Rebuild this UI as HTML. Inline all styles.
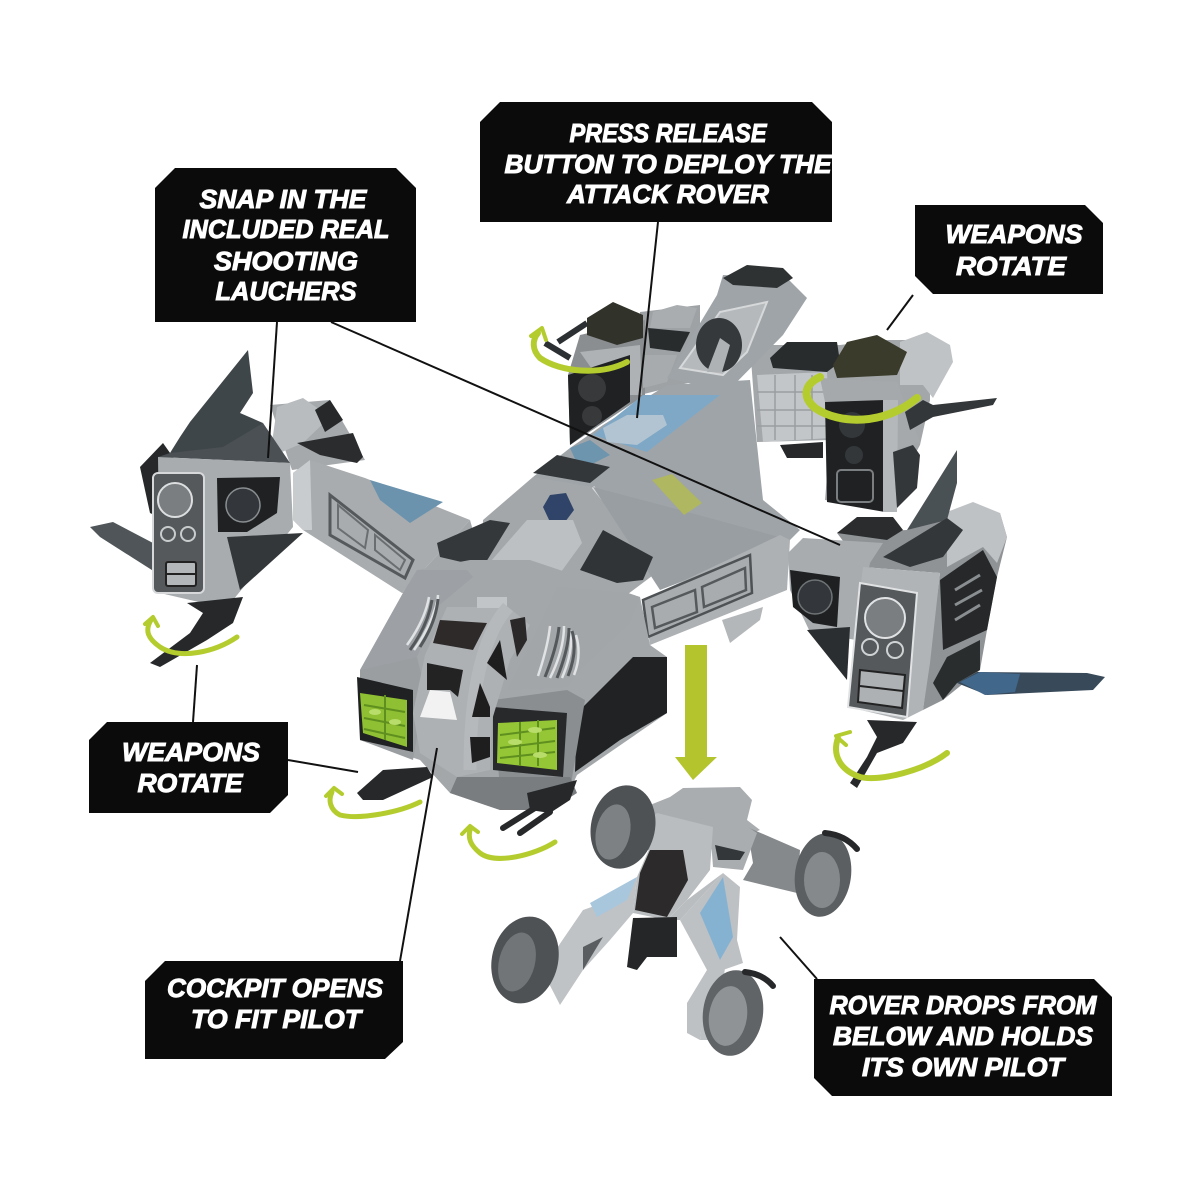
<!DOCTYPE html>
<html><head><meta charset="utf-8"><style>
html,body{margin:0;padding:0;background:#fff}
svg{display:block}
text{font-family:"Liberation Sans",sans-serif;font-weight:bold;font-style:italic;font-size:26px;fill:#fff;text-anchor:middle;stroke:#fff;stroke-width:1px}
</style></head><body>
<svg width="1200" height="1200" viewBox="0 0 1200 1200" xmlns="http://www.w3.org/2000/svg">
<rect width="1200" height="1200" fill="#fff"/>

<!-- rear underlays -->
<polygon points="640,312 700,305 700,380 640,395" fill="#9ea2a5"/>
<polygon points="580,335 645,320 645,395 600,425 570,445 568,375" fill="#8a8e91"/>
<polygon points="750,345 840,345 880,340 930,340 930,400 920,445 885,510 825,500 830,440 757,442" fill="#a3a7aa"/>

<!-- rear left turret -->
<polygon points="653,312 677,305 697,308 690,328 650,328" fill="#a9adb0"/>
<polygon points="648,328 690,332 680,352 650,348" fill="#292c2d"/>
<polygon points="580,352 640,345 642,395 610,395" fill="#aeb2b5"/>
<polygon points="568,375 630,355 630,402 593,428 570,445" fill="#1f2122"/>
<circle cx="592" cy="388" r="14" fill="#37393b"/><circle cx="592" cy="416" r="10" fill="#37393b"/>
<polygon points="587,318 613,302 643,315 643,338 617,345 587,335" fill="#31332a"/>
<path d="M558 342 587 323M545 343 570 358" stroke="#2d3032" stroke-width="6" fill="none"/>
<polygon points="643,355 677,355 667,382 643,388" fill="#a7abae"/>

<!-- tail -->
<polygon points="667,378 717,295 723,275 787,278 807,298 783,335 727,392" fill="#9fa4a8"/>
<polygon points="723,278 747,265 783,268 793,278 777,288 733,285" fill="#2f3233"/>
<polygon points="680,368 720,312 767,302 747,352 723,375" fill="#b5b9bc" stroke="#d6d8d9" stroke-width="2"/>
<ellipse cx="719" cy="345" rx="23" ry="27" fill="#36393b"/>
<polygon points="707,372 720,338 730,345 722,372" fill="#aeb2b5"/>

<!-- rear right engine -->
<polygon points="770,358 787,342 837,342 840,362 827,372 773,368" fill="#292c2d"/>
<polygon points="757,375 827,372 830,438 763,442" fill="#c3c6c9"/>
<g stroke="#9a9ea1" stroke-width="1.5"><path d="M757 392h72M757 410h72M757 426h72M775 375v65M795 375v65M812 375v65"/></g>
<polygon points="780,445 823,442 823,458 787,458" fill="#26282a"/>
<polygon points="900,342 927,332 950,345 953,362 933,398 923,385 900,385" fill="#c0c3c6"/>
<polygon points="820,378 897,382 920,442 895,450 825,402" fill="#a5a9ac"/>
<polygon points="825,402 885,400 885,512 827,502" fill="#1f2122"/>
<rect x="837" y="470" width="36" height="32" rx="4" fill="none" stroke="#7a7e80" stroke-width="2"/>
<circle cx="852" cy="425" r="13" fill="#34373a"/><circle cx="854" cy="455" r="9" fill="#34373a"/>
<polygon points="883,400 898,400 897,512 883,512" fill="#b4b8ba"/>
<polygon points="893,452 913,445 920,455 917,488 897,508" fill="#34373a"/>
<polygon points="905,412 923,400 933,405 997,398 993,405 933,417 910,430" fill="#33373a"/>
<polygon points="833,365 847,342 877,335 907,352 897,375 837,378" fill="#3a3b2b"/>

<!-- deck -->
<polygon points="570,448 603,425 667,385 750,380 763,500 800,530 790,540 660,580 533,477" fill="#9fa4a8"/>
<polygon points="643,395 720,395 647,452 593,435" fill="#7fa8c6"/>
<polygon points="603,428 627,415 663,415 667,425 637,445 607,442" fill="#b2c4d2"/>
<polygon points="570,448 590,440 610,455 580,470" fill="#6e95ae"/>

<!-- left engine -->
<polygon points="270,405 330,400 365,460 292,470" fill="#a5a9ac"/>
<polygon points="277,407 303,398 330,417 303,443 270,457" fill="#b8bcbe"/>
<polygon points="330,400 343,420 325,432 315,410" fill="#26282a"/>
<polygon points="297,443 353,433 363,457 357,463 320,455" fill="#2a2c2e"/>
<polygon points="140,467 163,443 175,460 165,520 150,513" fill="#26282a"/>
<polygon points="170,453 263,423 290,463 158,457" fill="#4a5054"/>
<polygon points="190,422 248,350 253,393 240,413 263,423 223,447 170,453 180,437" fill="#3f4649"/>
<polygon points="90,527 113,522 153,543 155,572 133,558 100,537" fill="#4f5558"/>
<polygon points="158,457 290,463 293,527 233,600 203,603 160,593" fill="#a8acaf"/>
<polygon points="227,537 303,533 240,590" fill="#33373a"/>
<polygon points="217,478 280,477 277,513 247,532 218,532" fill="#1f2122"/>
<circle cx="243" cy="505" r="17" fill="#33363a" stroke="#8a8e90" stroke-width="1.5"/>
<rect x="153" y="473" width="51" height="120" rx="5" fill="#55595c" stroke="#d6d8d9" stroke-width="2"/>
<circle cx="175" cy="500" r="17" fill="#7a7e81" stroke="#dcdedf" stroke-width="2"/>
<circle cx="168" cy="534" r="7" fill="#55595b" stroke="#c9cccd" stroke-width="2"/><circle cx="188" cy="534" r="7" fill="#55595b" stroke="#c9cccd" stroke-width="2"/>
<rect x="166" y="562" width="30" height="24" rx="2" fill="#b3b7b9" stroke="#222" stroke-width="2"/>
<path d="M166 574h30" stroke="#222" stroke-width="2"/>
<polygon points="187,603 243,597 233,623 207,640 160,667 150,663 190,633 203,613" fill="#26282a"/>

<!-- left wing -->
<polygon points="293,473 310,460 365,478 470,520 402,593 303,530 293,520" fill="#a8acaf"/>
<polygon points="293,473 310,460 312,530 303,530 293,520" fill="#c9ccce"/>
<polygon points="370,480 443,502 410,523 380,500" fill="#6b93ae"/>
<polygon points="330,495 413,560 405,578 330,535" fill="none" stroke="#55595b" stroke-width="3"/>
<polygon points="338,505 368,530 365,548 338,528" fill="none" stroke="#6a6e70" stroke-width="2"/>
<path d="M375 535 405 560 400 570 375 550z" fill="none" stroke="#6a6e70" stroke-width="2"/>
<polygon points="402,593 470,520 490,590" fill="#a3a7aa"/>

<!-- hull front -->
<polygon points="533,477 593,487 660,570 620,600 480,590 483,520" fill="#a3a7aa"/>
<path d="M593 487 660 570" stroke="#d8dadb" stroke-width="3"/>
<polygon points="593,487 680,510 790,540 660,590" fill="#999ea2"/>
<polygon points="533,473 557,455 610,467 590,483" fill="#33373a"/>
<polygon points="543,507 550,495 566,493 574,510 565,522 550,522" fill="#2f4468"/>
<polygon points="652,480 672,474 702,503 684,515" fill="#b3bc4e" opacity=".8"/>
<polygon points="437,543 490,520 510,523 483,567 440,557" fill="#34383a"/>
<polygon points="580,570 603,530 653,557 643,580 617,583" fill="#303436"/>
<polygon points="477,577 527,520 573,520 582,543 553,583 523,587" fill="#bdc0c2"/>

<!-- right wing -->
<polygon points="722,620 763,607 760,620 730,643" fill="#b4b7b9"/>
<polygon points="643,600 780,535 790,540 787,590 650,645" fill="#adb1b4"/>
<polygon points="643,600 750,555 752,593 648,637" fill="#a8acaf" stroke="#4e5255" stroke-width="2.5"/>
<polygon points="652,607 695,590 697,612 655,628" fill="none" stroke="#55595b" stroke-width="2.5"/>
<polygon points="702,587 745,568 746,590 704,607" fill="none" stroke="#55595b" stroke-width="2.5"/>

<!-- right front engine -->
<polygon points="837,533 907,530 947,512 1000,513 1007,537 997,577 987,630 980,670 943,700 923,710 940,573 863,567" fill="#8f9396"/>
<polygon points="837,533 857,517 893,517 903,530 887,540" fill="#2a2c2e"/>
<polygon points="947,512 973,502 1000,513 1007,537 997,563 983,547 947,567" fill="#bfc2c5"/>
<polygon points="907,530 957,450 957,483 947,520" fill="#4a5155"/>
<polygon points="883,557 947,518 963,530 943,557 910,567" fill="#33373a"/>
<polygon points="957,683 977,672 1087,673 1105,677 1093,690 987,695" fill="#38495a"/>
<polygon points="960,682 980,672 1020,674 1015,692 985,695" fill="#41678a"/>
<polygon points="788,553 803,538 883,543 870,563 856,640 810,632 790,590" fill="#a8acaf"/>
<polygon points="807,630 850,627 847,680" fill="#2b2e30"/>
<polygon points="790,570 840,577 837,627 813,623 793,607" fill="#1e2021"/>
<circle cx="815" cy="597" r="17" fill="#33363a" stroke="#6f7375" stroke-width="1.5"/>
<polygon points="940,580 983,550 997,577 987,630 943,650" fill="#262829"/>
<path d="M955 590 980 575M955 605 982 590M955 620 980 605" stroke="#8a8e90" stroke-width="3"/>
<polygon points="933,683 947,657 980,640 980,670 957,683 943,700" fill="#2a2d2e"/>
<polygon points="863,567 940,573 930,663 923,710 903,720 848,707 850,677" fill="#b0b4b7"/>
<polygon points="860,583 917,593 907,717 848,707" fill="#55595c" stroke="#e0e2e3" stroke-width="2"/>
<circle cx="885" cy="618" r="20" fill="#7a7e81" stroke="#e0e2e3" stroke-width="2"/>
<circle cx="870" cy="647" r="8" fill="#55595b" stroke="#d0d3d4" stroke-width="2"/><circle cx="895" cy="650" r="8" fill="#55595b" stroke="#d0d3d4" stroke-width="2"/>
<polygon points="860,670 905,675 902,708 858,702" fill="#adb1b4" stroke="#222" stroke-width="2"/>
<path d="M860 686 903 691" stroke="#222" stroke-width="2"/>
<polygon points="867,720 917,722 903,743 877,753 857,788 850,783 867,757 877,737" fill="#26282a"/>

<!-- nose underlay -->
<polygon points="360,670 403,593 417,570 470,560 530,560 640,597 650,645 667,657 667,713 577,775 570,790 500,810 450,793 420,760 360,740" fill="#a3a7aa"/>
<!-- nose side panels -->
<polygon points="417,570 467,570 473,577 437,607 417,657 360,670 403,593" fill="#9da1a5"/>
<polygon points="557,587 627,593 640,597 630,623 583,667 567,687 507,690 537,630" fill="#a2a6a9"/>
<g fill="none" stroke="#e0e2e3" stroke-width="2.5"><path d="M407 645q18-25 22-48M414 650q18-25 24-52M424 640q12-20 14-45"/>
<path d="M538 676q10-30 12-50M550 678q14-28 14-52M562 678q12-28 8-48M574 675q8-20 2-40"/></g>
<g fill="none" stroke="#54585b" stroke-width="3"><path d="M410 650q18-25 22-50M420 647q16-25 18-48M545 677q12-30 14-50M557 678q12-30 12-50M568 676q10-25 4-45"/></g>
<!-- dark side chassis -->
<polygon points="577,713 633,657 667,657 667,713 620,740 575,772" fill="#202223"/>
<polygon points="493,700 567,690 585,700 570,790 500,790" fill="#8a8e91"/>
<polygon points="360,670 417,657 425,690 413,760 360,740" fill="#9a9ea1"/>
<!-- rockets -->
<polygon points="357,677 413,690 413,752 360,740" fill="#1f2122"/>
<polygon points="360,693 407,700 407,747 363,733" fill="#8fbf32"/>
<polygon points="493,707 567,713 563,777 493,770" fill="#27292b"/>
<polygon points="498,723 557,720 557,770 497,763" fill="#95c636"/>
<g stroke="#5f8f1e" stroke-width="2" fill="none"><path d="M364 705 405 712M364 718 405 726M364 729 405 738M385 695v45M500 735 555 728M500 748 555 741M500 758 555 752M520 722v44M538 720v46"/></g>
<g fill="#b9dd6a"><ellipse cx="375" cy="712" rx="6" ry="3"/><ellipse cx="395" cy="722" rx="6" ry="3"/><ellipse cx="515" cy="742" rx="7" ry="3"/><ellipse cx="540" cy="755" rx="7" ry="3"/><ellipse cx="535" cy="730" rx="7" ry="3"/></g>
<!-- underside and guns -->
<polygon points="457,777 570,777 577,793 550,810 500,810 450,793" fill="#797d80"/>
<polygon points="527,793 577,780 570,800 550,813 530,810" fill="#26282a"/>
<path d="M503 828 535 808M520 833 550 812" stroke="#26282a" stroke-width="6" stroke-linecap="round"/>
<polygon points="357,793 383,770 427,767 433,777 383,800 363,800" fill="#26282a"/>

<!-- cockpit -->
<polygon points="447,607 508,607 530,625 510,660 492,720 490,770 457,777 420,753 413,713 425,655" fill="#adb1b4"/>
<polygon points="477,597 507,597 507,608 477,608" fill="#c2c5c7"/>
<path d="M508 607Q470 650 470 770" fill="none" stroke="#b6b9bc" stroke-width="13"/>
<polygon points="440,620 487,623 473,650 433,643" fill="#2e2a2a"/>
<polygon points="427,663 463,670 458,697 450,690 427,690" fill="#242324"/>
<polygon points="430,690 450,692 457,720 420,717" fill="#f2f2f2"/>
<polygon points="510,620 525,617 527,640 517,657" fill="#2a2828"/>
<polygon points="500,640 507,680 487,663" fill="#1e1e1f"/>
<polygon points="480,683 490,707 490,717 472,717" fill="#1e1e1f"/>
<polygon points="470,737 490,737 490,757 472,763" fill="#1e1e1f"/>

<!-- rover -->
<polygon points="630,813 670,797 683,788 740,787 752,800 747,820 760,830 710,850 640,850" fill="#a9adb0"/>
<polygon points="747,827 800,850 797,893 743,880 753,863" fill="#85898c"/>
<polygon points="710,827 727,813 757,833 743,870 713,867" fill="#a9adb0"/>
<polygon points="715,845 745,852 740,860 718,860" fill="#33373a"/>
<polygon points="627,840 657,813 713,827 710,870 687,900 667,920 633,913 637,877 650,847" fill="#b9bdbf"/>
<polygon points="687,900 723,873 680,920 667,920" fill="#b9bdbf"/>
<polygon points="650,850 683,850 688,880 667,917 635,910 640,873" fill="#2c2a2a"/>
<polygon points="542,970 583,910 603,903 637,877 633,913 610,940 583,970 560,1005" fill="#c0c3c6"/>
<polygon points="590,903 637,877 627,900 597,917" fill="#a8c6dc"/>
<polygon points="583,947 603,937 583,970" fill="#5a5e60"/>
<polygon points="633,918 677,917 677,957 647,957 637,970 627,967" fill="#242627"/>
<polygon points="680,920 723,873 740,887 737,940 743,963 723,970 707,980 700,1040 687,1033 687,1003 707,970" fill="#bec1c4"/>
<polygon points="707,970 725,968 715,1040 700,1040" fill="#bec1c4"/>
<polygon points="700,913 723,877 733,937 720,960" fill="#86b2d2"/>
<!-- wheels -->
<g>
<ellipse cx="623" cy="827" rx="32" ry="42" fill="#4e5255" transform="rotate(12 623 827)"/>
<ellipse cx="613" cy="832" rx="17" ry="28" fill="#7d8184" transform="rotate(12 613 832)"/>
<ellipse cx="823" cy="875" rx="28" ry="42" fill="#5b5f62" transform="rotate(8 823 875)"/>
<ellipse cx="822" cy="880" rx="18" ry="28" fill="#85898c"/>
<path d="M825 833q20 2 32 16" stroke="#26282a" stroke-width="6" fill="none" stroke-linecap="round"/>
<ellipse cx="525" cy="960" rx="33" ry="44" fill="#4e5255" transform="rotate(14 525 960)"/>
<ellipse cx="517" cy="962" rx="18" ry="30" fill="#717578" transform="rotate(14 517 962)"/>
<ellipse cx="733" cy="1013" rx="30" ry="43" fill="#606467" transform="rotate(8 733 1013)"/>
<ellipse cx="728" cy="1016" rx="19" ry="30" fill="#8f9396" transform="rotate(8 728 1016)"/>
<path d="M745 972q18 2 28 14" stroke="#26282a" stroke-width="6" fill="none" stroke-linecap="round"/>
</g>

<!-- big arrow -->
<polygon points="685,645 707,645 707,757 717,757 693,780 675,757 685,757" fill="#b4c42c"/>

<!-- rotation arrows -->
<g fill="none" stroke="#b5cc2e" stroke-linecap="round" stroke-linejoin="round">
<path d="M627 362C600 376 560 372 540 358C532 350 532 340 538 333" stroke-width="6"/>
<path d="M542 328 531 336M542 328 546 340" stroke-width="4"/>
<path d="M917 398C885 425 840 425 815 408C803 398 803 385 820 377" stroke-width="8"/>
<path d="M237 637C215 652 180 660 160 647C147 638 145 630 151 620" stroke-width="5"/>
<path d="M153 617 145 624M153 617 158 626" stroke-width="4"/>
<path d="M947 753C925 770 880 782 860 777C840 770 832 755 838 738" stroke-width="6"/>
<path d="M850 732 836 736M838 738 846 745" stroke-width="4"/>
<path d="M420 802C400 812 360 820 340 815C330 810 328 800 332 792" stroke-width="5"/>
<path d="M334 788 326 796M334 788 342 794" stroke-width="4"/>
<path d="M555 842C535 855 495 865 480 853C470 845 468 838 470 830" stroke-width="5"/>
<path d="M470 826 462 834M470 826 478 832" stroke-width="4"/>
</g>

<!-- leader lines -->
<g stroke="#111" stroke-width="2" fill="none">
<path d="M658 222 637 418"/>
<path d="M913 295 887 330"/>
<path d="M277 322 268 458"/>
<path d="M331 322 840 545"/>
<path d="M197 665 193 722"/>
<path d="M288 760 358 772"/>
<path d="M437 748 400 961"/>
<path d="M780 937 817 979"/>
</g>

<!-- labels -->
<g fill="#0b0b0b">
<polygon points="500,102 812,102 832,122 832,222 480,222 480,122"/>
<polygon points="175,168 396,168 416,188 416,322 155,322 155,188"/>
<polygon points="915,205 1085,205 1103,223 1103,294 933,294 915,276"/>
<polygon points="107,722 288,722 288,795 270,813 89,813 89,740"/>
<polygon points="165,961 403,961 403,1042 385,1059 145,1059 145,981"/>
<polygon points="814,979 1094,979 1112,997 1112,1096 832,1096 814,1078"/>
</g>
<g>
<text x="668" y="142" textLength="197" lengthAdjust="spacingAndGlyphs">PRESS RELEASE</text>
<text x="668" y="173" textLength="327" lengthAdjust="spacingAndGlyphs">BUTTON TO DEPLOY THE</text>
<text x="668" y="203" textLength="202" lengthAdjust="spacingAndGlyphs">ATTACK ROVER</text>
<text x="283" y="208" textLength="167" lengthAdjust="spacingAndGlyphs">SNAP IN THE</text>
<text x="286" y="238" textLength="207" lengthAdjust="spacingAndGlyphs">INCLUDED REAL</text>
<text x="286" y="270" textLength="144" lengthAdjust="spacingAndGlyphs">SHOOTING</text>
<text x="286" y="300" textLength="141" lengthAdjust="spacingAndGlyphs">LAUCHERS</text>
<text x="1014" y="243" textLength="137" lengthAdjust="spacingAndGlyphs">WEAPONS</text>
<text x="1011" y="275" textLength="110" lengthAdjust="spacingAndGlyphs">ROTATE</text>
<text x="191" y="761" textLength="138" lengthAdjust="spacingAndGlyphs">WEAPONS</text>
<text x="190" y="792" textLength="105" lengthAdjust="spacingAndGlyphs">ROTATE</text>
<text x="275" y="997" textLength="216" lengthAdjust="spacingAndGlyphs">COCKPIT OPENS</text>
<text x="276" y="1028" textLength="170" lengthAdjust="spacingAndGlyphs">TO FIT PILOT</text>
<text x="963" y="1014" textLength="267" lengthAdjust="spacingAndGlyphs">ROVER DROPS FROM</text>
<text x="963" y="1045" textLength="260" lengthAdjust="spacingAndGlyphs">BELOW AND HOLDS</text>
<text x="963" y="1076" textLength="202" lengthAdjust="spacingAndGlyphs">ITS OWN PILOT</text>
</g>
</svg>
</body></html>
